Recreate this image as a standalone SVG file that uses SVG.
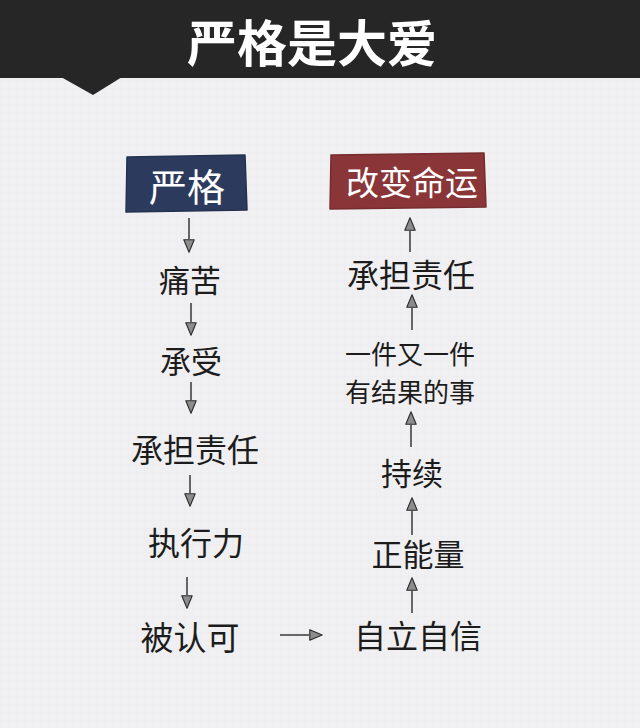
<svg xmlns="http://www.w3.org/2000/svg" width="640" height="728" viewBox="0 0 640 728">
  <defs>
    <pattern id="grid" width="8" height="8" patternUnits="userSpaceOnUse">
      <path d="M8 0 L0 0 0 8" fill="none" stroke="#e6e6e9" stroke-width="0.6"/>
    </pattern>
    <marker id="ah" viewBox="0 0 14 12" markerWidth="14" markerHeight="12" refX="0" refY="6" orient="auto" markerUnits="userSpaceOnUse">
      <path d="M0.8,0.8 L13.2,6 L0.8,11.2 z" fill="#8c8c8c" stroke="#2a2a2a" stroke-width="1.1" stroke-linejoin="round"/>
    </marker>
  </defs>
  <style>
    .t { font-family: "Noto Sans CJK SC", "Noto Sans", sans-serif; fill: #1c1c1c; text-anchor: middle; dominant-baseline: central; }
    .w { fill: #ffffff; }
    .c { fill: none; stroke: #2a2a2a; stroke-width: 1.4; marker-end: url(#ah); }
  </style>
  <rect width="640" height="728" fill="#f0f0f2"/>
  <rect width="640" height="728" fill="url(#grid)" opacity="0.6"/>

  <g id="header">
    <rect x="0" y="0" width="640" height="78" fill="#262626"/>
    <polygon points="61,77 122,77 93,95" fill="#262626"/>
    <text class="t w" x="312" y="40" font-size="50" font-weight="700">严格是大爱</text>
  </g>

  <g id="connectors">
    <line class="c" x1="189" y1="218" x2="189" y2="239"/>
    <line class="c" x1="191" y1="303" x2="191" y2="322"/>
    <line class="c" x1="191" y1="382" x2="191" y2="400"/>
    <line class="c" x1="190" y1="475" x2="190" y2="493"/>
    <line class="c" x1="187" y1="577" x2="187" y2="595"/>
    <line class="c" x1="280" y1="635" x2="309" y2="635"/>
    <line class="c" x1="412" y1="613" x2="412" y2="591"/>
    <line class="c" x1="412" y1="535" x2="412" y2="511"/>
    <line class="c" x1="411" y1="447" x2="411" y2="425"/>
    <line class="c" x1="412" y1="330" x2="412" y2="308"/>
    <line class="c" x1="410" y1="252" x2="410" y2="231"/>
  </g>

  <g id="node-yange">
    <path d="M127,157 L245,155 L247,210 L126,212 z" fill="#2c3b5d" stroke="#243150" stroke-width="1.5" stroke-linejoin="round"/>
    <text class="t w" x="187" y="184" font-size="38">严格</text>
  </g>
  <g id="node-gaibian">
    <path d="M331,155 L484,153 L486,207 L330,209 z" fill="#8a3638" stroke="#762c2e" stroke-width="1.5" stroke-linejoin="round"/>
    <text class="t w" x="412" y="181" font-size="33">改变命运</text>
  </g>

  <g id="node-tongku"><text class="t" x="190" y="278" font-size="31">痛苦</text></g>
  <g id="node-chengshou"><text class="t" x="191" y="359" font-size="31">承受</text></g>
  <g id="node-chengdan-left"><text class="t" x="195" y="448" font-size="32">承担责任</text></g>
  <g id="node-zhixingli"><text class="t" x="196" y="541" font-size="32">执行力</text></g>
  <g id="node-beirenke"><text class="t" x="190" y="636" font-size="33">被认可</text></g>

  <g id="node-zili"><text class="t" x="418" y="634" font-size="32">自立自信</text></g>
  <g id="node-zhengnengliang"><text class="t" x="418" y="552" font-size="31">正能量</text></g>
  <g id="node-chixu"><text class="t" x="412" y="471" font-size="31">持续</text></g>
  <g id="node-yijian">
    <text class="t" x="410" y="352" font-size="26">一件又一件</text>
    <text class="t" x="410" y="390" font-size="26">有结果的事</text>
  </g>
  <g id="node-chengdan-right"><text class="t" x="411" y="273" font-size="32">承担责任</text></g>
</svg>
